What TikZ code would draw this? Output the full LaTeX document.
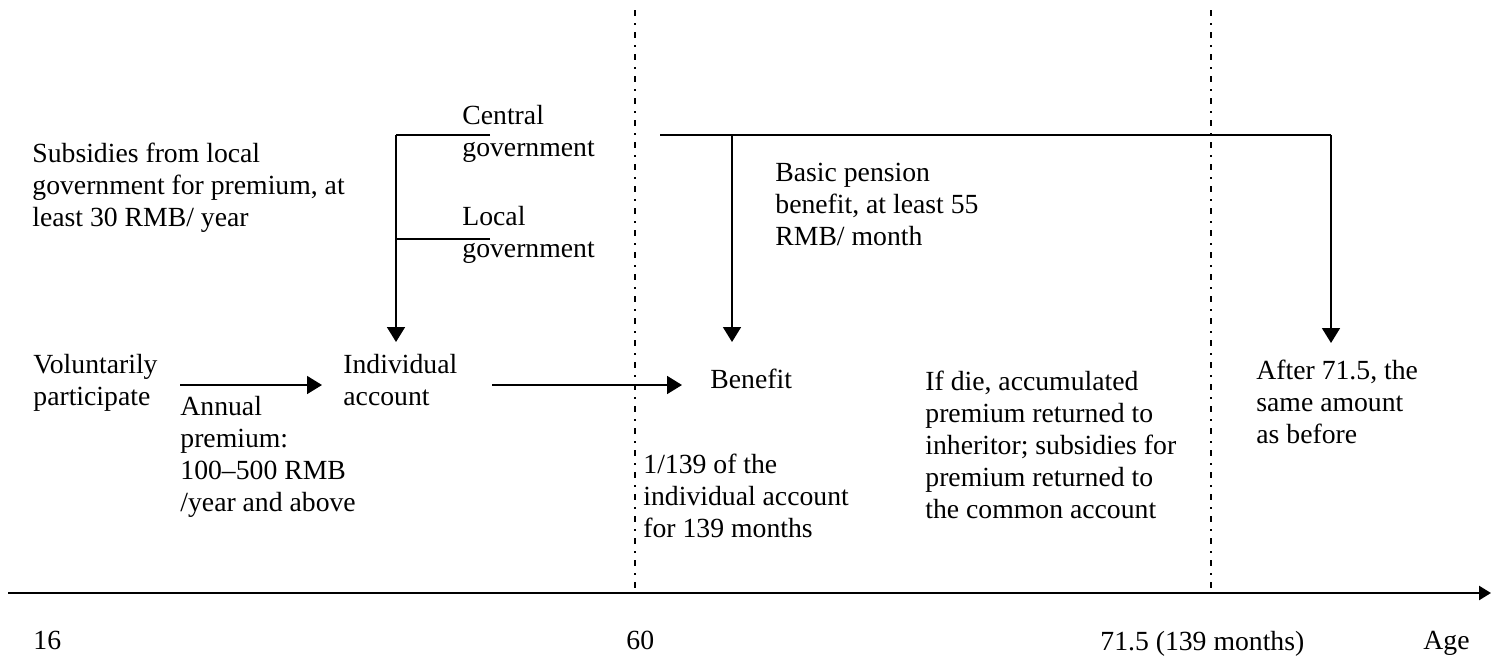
\documentclass[tikz,border=0pt]{standalone}
\usepackage{fontspec}
\setmainfont{Liberation Serif}
\usetikzlibrary{arrows.meta}
\tikzset{
  txt/.style={inner sep=0pt, anchor=north west, align=left, font=\fontsize{13.85}{16}\selectfont},
  link/.style={line width=0.85pt},
  flow/.style={link, -{Triangle[length=7.5pt,width=9pt]}},
  axisline/.style={line width=1.2pt, -{Triangle[length=6pt,width=7pt]}},
  border/.style={line width=0.6pt, dash pattern=on 3pt off 3.6pt on 0.8pt off 3.6pt}
}
\begin{document}
\begin{tikzpicture}[x=0.5pt,y=-0.5pt]
\useasboundingbox (0,0) rectangle (1491,659);
\node[txt] (subsidy) at (32,143) {Subsidies from local\\government for premium, at\\least 30 RMB/ year};
\node[txt] (central) at (462,105) {Central\\government};
\node[txt] (local) at (462,206) {Local\\government};
\node[txt] (basic) at (775,163) {Basic pension\\benefit, at least 55\\RMB/ month};
\node[txt] (volunt) at (33,354) {Voluntarily\\participate};
\node[txt] (annual) at (180,396) {Annual\\premium:\\100--500 RMB\\/year and above};
\node[txt] (indiv) at (343,354) {Individual\\account};
\node[txt] (benefit) at (710,369) {Benefit};
\node[txt] (share) at (643,454) {1/139 of the\\individual account\\for 139 months};
\node[txt] (die) at (925,371) {If die, accumulated\\premium returned to\\inheritor; subsidies for\\premium returned to\\the common account};
\node[txt] (after) at (1256,360) {After 71.5, the\\same amount\\as before};
\foreach \x/\t/\n in {33/16/start, 626/60/retire, 1100/71.5 (139 months)/end, 1423/Age/age}
  \node[txt] (\n) at (\x,631) {\t};
\coordinate (axl) at (8,593);
\coordinate (axr) at (1491,593);
\draw[axisline] (axl) -- (axr);
\foreach \x in {635,1211}
  \draw[border] (\x,10) -- (\x,593);
\coordinate (cgov) at (490,135);
\coordinate (lgov) at (490,239);
\coordinate (cjoin) at (396,135);
\coordinate (ljoin) at (396,239);
\coordinate (intoacc) at (396,342);
\draw[link] (cgov) -- (cjoin);
\draw[link] (lgov) -- (ljoin);
\draw[flow] (cjoin) -- (intoacc);
\coordinate (pstart) at (660,135);
\coordinate (pmid) at (732,135);
\coordinate (pend) at (1331,135);
\coordinate (tobenefit) at (732,342);
\coordinate (toafter) at (1331,343);
\draw[link] (pstart) -- (pend);
\draw[flow] (pmid) -- (tobenefit);
\draw[flow] (pend) -- (toafter);
\coordinate (payfrom) at (180,385);
\coordinate (payto) at (322,385);
\coordinate (accfrom) at (492,385);
\coordinate (accto) at (682,385);
\draw[flow] (payfrom) -- (payto);
\draw[flow] (accfrom) -- (accto);
\end{tikzpicture}
\end{document}
